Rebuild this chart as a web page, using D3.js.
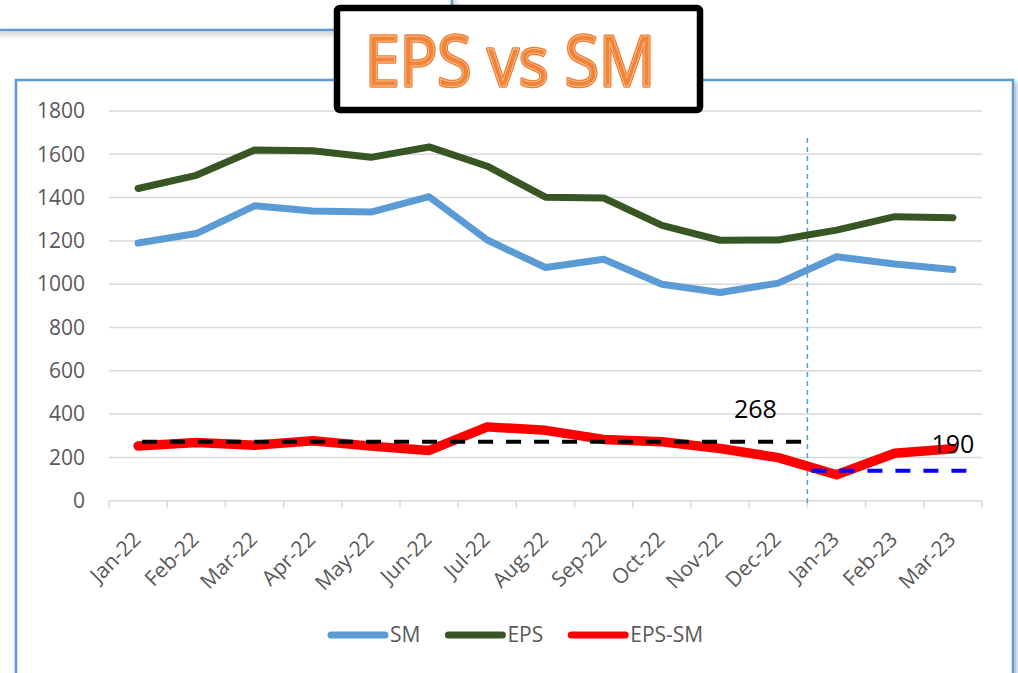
<!DOCTYPE html>
<html lang="en">
<head>
  <meta charset="UTF-8">
  <title>EPS vs SM</title>
  <script src="https://d3js.org/d3.v7.min.js"></script>
  <style>
    body { margin: 0; background: #fff; }
    text { font-family: "Open Sans", "Liberation Sans", sans-serif; }
    .axis text { fill: #595959; font-size: 21px; }
    .grid line { stroke: #d9d9d9; stroke-width: 1.5px; }
  </style>
</head>
<body>
  <svg width="1018" height="673"></svg>

  <script>
    // chart data
    const months = ["Jan-22", "Feb-22", "Mar-22", "Apr-22", "May-22", "Jun-22", "Jul-22", "Aug-22",
                    "Sep-22", "Oct-22", "Nov-22", "Dec-22", "Jan-23", "Feb-23", "Mar-23"];
    const smValues = [1190, 1234, 1362, 1338, 1333, 1404, 1204, 1077, 1115, 1000, 962, 1005, 1127, 1093, 1068];
    const epsValues = [1442, 1503, 1620, 1616, 1586, 1634, 1545, 1402, 1398, 1272, 1203, 1204, 1250, 1312, 1307];
    const diffValues = [253, 269, 256, 277, 252, 232, 341, 325, 283, 272, 241, 199, 120, 219, 240];
    const yTicks = [0, 200, 400, 600, 800, 1000, 1200, 1400, 1600, 1800];

    // reference averages (dashed) and their labels
    const refLines = [
      { from: "Jan-22", to: "Dec-22", value: 272, label: "268", color: "#000" },
      { from: "Jan-23", to: "Mar-23", value: 138, label: "190", color: "#0000ff" }
    ];

    const series = [
      { name: "SM", values: smValues, color: "#5b9bd5", width: 7 },
      { name: "EPS", values: epsValues, color: "#375623", width: 7 },
      { name: "EPS-SM", values: diffValues, color: "#ff0000", width: 9.5 }
    ];

    const svg = d3.select("svg");

    const x = d3.scaleBand().domain(months).range([109, 982]);
    const y = d3.scaleLinear().domain([0, 1800]).range([500.7, 111]);
    const cx = m => x(m) + x.bandwidth() / 2;

    const defs = svg.append("defs");
    const sh = defs.append("filter").attr("id", "shadow")
      .attr("x", "-5%").attr("y", "-5%").attr("width", "120%").attr("height", "130%");
    sh.append("feDropShadow").attr("dx", 2).attr("dy", 3).attr("stdDeviation", 2.5)
      .attr("flood-color", "#000").attr("flood-opacity", 0.35);

    // box behind the title (only its corner shows)
    svg.append("path")
      .attr("d", "M-5,30 H452 V-5")
      .attr("fill", "none")
      .attr("stroke", "#5b9bd5")
      .attr("stroke-width", 2.5)
      .attr("filter", "url(#shadow)");

    // chart frame
    svg.append("rect")
      .attr("x", 16).attr("y", 80)
      .attr("width", 997).attr("height", 640)
      .attr("fill", "#fff")
      .attr("stroke", "#5b9bd5")
      .attr("stroke-width", 2.5)
      .attr("filter", "url(#shadow)");

    // gridlines
    svg.append("g").attr("class", "grid")
      .selectAll("line")
      .data(yTicks.filter(d => d > 0))
      .enter().append("line")
      .attr("x1", x.range()[0]).attr("x2", x.range()[1])
      .attr("y1", d => y(d)).attr("y2", d => y(d));

    // y axis
    const yAxis = svg.append("g").attr("class", "axis")
      .attr("transform", `translate(${x.range()[0]},0)`)
      .call(d3.axisLeft(y).tickValues(yTicks).tickFormat(d3.format("d")).tickSize(0).tickPadding(24));
    yAxis.select(".domain").remove();

    // x axis line and boundary ticks
    const xg = svg.append("g").attr("class", "axis");
    xg.append("line")
      .attr("x1", x.range()[0]).attr("x2", x.range()[1])
      .attr("y1", y(0)).attr("y2", y(0))
      .attr("stroke", "#d9d9d9").attr("stroke-width", 1.5);
    xg.selectAll(".tk")
      .data(d3.range(months.length + 1))
      .enter().append("line")
      .attr("class", "tk")
      .attr("x1", i => x.range()[0] + i * x.step())
      .attr("x2", i => x.range()[0] + i * x.step())
      .attr("y1", y(0)).attr("y2", y(0) + 7)
      .attr("stroke", "#d9d9d9").attr("stroke-width", 1.5);
    xg.selectAll(".lbl")
      .data(months)
      .enter().append("text")
      .attr("class", "lbl")
      .attr("text-anchor", "end")
      .attr("transform", d => `translate(${cx(d) + 4},${y(0) + 40}) rotate(-45)`)
      .text(d => d);

    // divider between 2022 and 2023
    const split = x("Jan-23");
    svg.append("line")
      .attr("x1", split).attr("x2", split)
      .attr("y1", 138).attr("y2", y(0) + 4)
      .attr("stroke", "#5b9bd5").attr("stroke-width", 1.5)
      .attr("stroke-dasharray", "5,4");

    // series lines
    const line = d3.line()
      .x((d, i) => cx(months[i]))
      .y(d => y(d));

    svg.append("g")
      .selectAll("path")
      .data(series)
      .enter().append("path")
      .attr("d", d => line(d.values))
      .attr("fill", "none")
      .attr("stroke", d => d.color)
      .attr("stroke-width", d => d.width)
      .attr("stroke-linecap", "round")
      .attr("stroke-linejoin", "round");

    // dashed average lines
    refLines[0].x1 = cx(refLines[0].from) + 4;
    refLines[0].x2 = x(refLines[0].to) + x.step();
    refLines[1].x1 = x(refLines[1].from) + 4;
    refLines[1].x2 = cx(refLines[1].to) + x.bandwidth() * 0.33;

    svg.append("g")
      .selectAll("line")
      .data(refLines)
      .enter().append("line")
      .attr("x1", d => d.x1).attr("x2", d => d.x2)
      .attr("y1", d => y(d.value)).attr("y2", d => y(d.value))
      .attr("stroke", d => d.color)
      .attr("stroke-width", 4)
      .attr("stroke-dasharray", "15,13");

    svg.append("text")
      .attr("x", split - 52).attr("y", y(refLines[0].value) - 24)
      .attr("text-anchor", "middle")
      .attr("font-size", 25)
      .attr("fill", "#000")
      .text(refLines[0].label);

    svg.append("text")
      .attr("x", cx("Mar-23")).attr("y", y(refLines[1].value) - 18)
      .attr("text-anchor", "middle")
      .attr("font-size", 25)
      .attr("fill", "#000")
      .text(refLines[1].label);

    // legend
    const legend = svg.append("g").attr("class", "axis");
    let lx = 328;
    const ly = 635;
    series.forEach(s => {
      legend.append("line")
        .attr("x1", lx + 3).attr("x2", lx + 57)
        .attr("y1", ly).attr("y2", ly)
        .attr("stroke", s.color).attr("stroke-width", 7)
        .attr("stroke-linecap", "round");
      const t = legend.append("text")
        .attr("x", lx + 62).attr("y", ly + 7)
        .text(s.name);
      lx += 62 + t.node().getComputedTextLength() + 25;
    });

    // title box
    svg.append("rect")
      .attr("x", 337).attr("y", 8)
      .attr("width", 363).attr("height", 102)
      .attr("rx", 3)
      .attr("fill", "#fff")
      .attr("stroke", "#000")
      .attr("stroke-width", 6.5);

    const title = svg.append("g")
      .attr("font-family", "Lato, 'Open Sans', sans-serif")
      .attr("font-size", 69);
    title.append("text")
      .attr("x", 365).attr("y", 86)
      .attr("textLength", 290)
      .attr("lengthAdjust", "spacingAndGlyphs")
      .attr("fill", "#ee7d31")
      .attr("stroke", "#ee7d31")
      .attr("stroke-width", 3.5)
      .attr("stroke-linejoin", "round")
      .text("EPS vs SM");
    title.append("text")
      .attr("x", 365).attr("y", 86)
      .attr("textLength", 290)
      .attr("lengthAdjust", "spacingAndGlyphs")
      .attr("fill", "#f08538")
      .attr("stroke", "#f8c29c")
      .attr("stroke-width", 0.8)
      .text("EPS vs SM");
  </script>
</body>
</html>
